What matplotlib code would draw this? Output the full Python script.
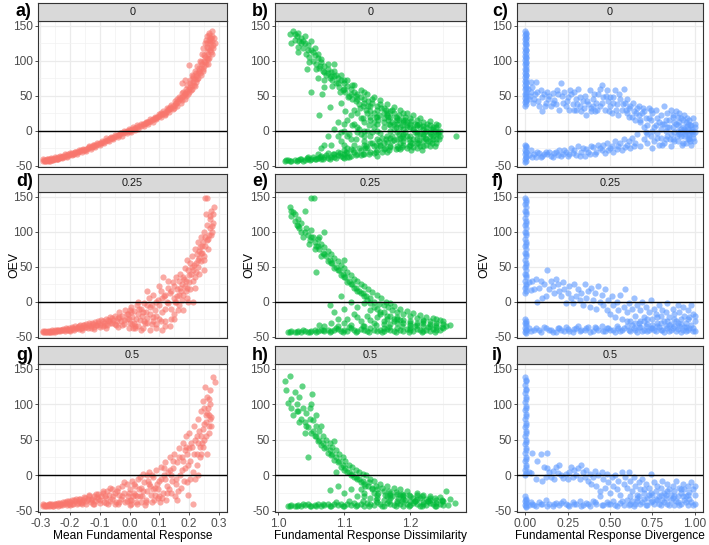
import matplotlib
matplotlib.use("Agg")
import matplotlib.pyplot as plt
from matplotlib.ticker import MultipleLocator

plt.rcParams['font.family'] = ['Liberation Sans', 'DejaVu Sans']

facet_labels = ["0", "0.25", "0.5"]
panel_letters = [["a)", "b)", "c)"], ["d)", "e)", "f)"], ["g)", "h)", "i)"]]
x_titles = ["Mean Fundamental Response", "Fundamental Response Dissimilarity",
            "Fundamental Response Divergence"]
y_title = "OEV"
colors = ["#F8766D", "#00BA38", "#619CFF"]
x_ticks = [[-0.3, -0.2, -0.1, 0.0, 0.1, 0.2, 0.3], [1.0, 1.1, 1.2], [0.0, 0.25, 0.5, 0.75, 1.0]]
x_tick_labels = [["-0.3", "-0.2", "-0.1", "0.0", "0.1", "0.2", "0.3"], ["1.0", "1.1", "1.2"],
                 ["0.00", "0.25", "0.50", "0.75", "1.00"]]
y_ticks = [-50, 0, 50, 100, 150]

# ---------------- row "0" ----------------
panel_a = [(-0.292,-43),(-0.288,-42),(-0.285,-43),(-0.282,-42),(-0.279,-43),(-0.276,-41),(-0.273,-42),(-0.27,-42),
(-0.266,-41),(-0.262,-42),(-0.258,-40),(-0.255,-41),(-0.251,-40),(-0.247,-39),(-0.243,-40),(-0.24,-38),(-0.236,-39),
(-0.232,-37),(-0.228,-38),(-0.224,-36),(-0.22,-37),(-0.215,-35),(-0.211,-36),(-0.206,-34),(-0.202,-35),(-0.197,-33),
(-0.192,-32),(-0.188,-33),(-0.183,-31),(-0.178,-30),(-0.173,-31),(-0.168,-29),(-0.163,-28),(-0.158,-28),(-0.152,-27),
(-0.147,-26),(-0.141,-25),(-0.136,-24),(-0.13,-23),(-0.125,-23),(-0.119,-21),(-0.113,-21),(-0.107,-19),(-0.101,-18),
(-0.095,-17),(-0.089,-16),(-0.083,-15),(-0.077,-13),(-0.071,-13),(-0.065,-11),(-0.058,-10),(-0.052,-9),(-0.046,-8),
(-0.04,-6),(-0.034,-6),(-0.028,-4),(-0.022,-3),(-0.016,-2),(-0.01,-1),(-0.004,0),(0.002,1),(0.008,2),(0.014,3),
(0.02,4),(0.026,5),(0.032,6),(0.038,7),(0.044,9),(0.05,10),(0.056,11),(0.062,12),(0.068,14),(0.074,15),(0.08,17),
(0.086,18),(0.092,19),(0.098,21),(0.104,22),(0.11,24),(0.116,26),(0.122,27),(0.128,29),(0.134,31),(0.14,33),
(0.146,35),(0.152,37),(0.158,40),(0.164,42),(0.17,45),(0.176,48),(0.182,51),(0.188,54),(0.194,57),(0.2,60),
(0.205,63),(0.21,66),(0.215,70),(0.22,74),(0.225,78),(0.23,82),(0.235,86),(0.24,90),(0.245,95),(0.25,100),
(0.255,106),(0.26,112),(0.265,118),(0.27,125),(0.274,132),(0.105,25),(0.12,24),(0.135,34),(0.15,33),(0.16,45),
(0.175,44),(0.18,56),(0.19,50),(0.195,66),(0.2,56),(0.205,72),(0.21,60),(0.215,78),(0.22,64),(0.222,85),(0.225,70),
(0.228,92),(0.232,76),(0.236,100),(0.24,80),(0.243,110),(0.246,86),(0.248,118),(0.25,92),(0.253,125),(0.255,98),
(0.258,130),(0.26,104),(0.262,136),(0.265,110),(0.267,140),(0.27,115),(0.272,128),(0.275,120),(0.278,136),
(0.268,104),(0.276,110),(0.263,95),(0.2,94),(0.21,80),(0.187,73),(0.175,68),(0.277,143),(0.266,137),(0.289,125),
(0.284,132),(0.28,118),(-0.268,-43),(-0.26,-40),(-0.245,-41),(-0.23,-38),(-0.19,-34),(-0.15,-28),(-0.12,-22),
(-0.06,-11),(0.0,-1),(0.06,13),(0.09,18),(0.13,31),(0.155,40),(0.17,47),(0.185,52),
(-0.29,-41),(-0.283,-44),(-0.277,-40),(-0.271,-44),(-0.264,-39),(-0.257,-42),(-0.25,-38),(-0.242,-41),(-0.234,-36),
(-0.226,-39),(-0.218,-34),(-0.21,-38),(-0.2,-32),(-0.193,-35),(-0.185,-30),(-0.177,-33),(-0.17,-28),(-0.16,-31),
(-0.155,-26),(-0.145,-29),(-0.138,-22),(-0.13,-26),(-0.122,-20),(-0.115,-24),(-0.108,-17),(-0.1,-20),(-0.092,-15),
(-0.085,-18),(-0.078,-11),(-0.07,-15),(-0.062,-9),(-0.055,-12),(-0.048,-6),(-0.04,-9),(-0.032,-3),(-0.025,-7),
(-0.018,0),(-0.01,-4),(-0.002,3),(0.005,-2),(0.012,5),(0.018,1),(0.025,8),(0.03,3),(0.04,10),(0.048,6),(0.055,13),
(0.062,9),(0.07,17),(0.078,12),(0.085,20),(0.09,16),(0.1,24),(0.107,19),(0.113,28),(0.12,23),(0.127,32),(0.133,27),
(0.14,37),(0.147,31),(0.153,42),(0.16,36),(0.166,48),(0.172,40),(0.178,54),(0.185,46),(0.19,60),(0.197,52),
(0.203,68),(0.208,58),(0.213,75),(0.218,66),(0.223,82),(0.228,74),(0.233,90),(0.238,82),(0.242,98),(0.247,88),
(0.252,108),(0.257,96),(0.262,120),(0.264,102),(0.268,130),(0.273,112),(0.279,128),(0.282,122),(0.27,132),(0.26,126)]

panel_b = [(1.018,138),(1.022,142),(1.025,130),(1.02,125),(1.028,135),(1.032,128),(1.03,120),(1.035,132),(1.038,118),
(1.04,125),(1.042,110),(1.045,122),(1.047,105),(1.05,115),(1.052,100),(1.055,108),(1.058,96),(1.06,104),(1.062,90),
(1.065,98),(1.068,85),(1.07,92),(1.072,80),(1.075,88),(1.078,76),(1.08,84),(1.082,72),(1.085,78),(1.088,68),(1.09,75),
(1.092,62),(1.095,72),(1.098,58),(1.1,68),(1.102,55),(1.105,64),(1.108,50),(1.11,60),(1.112,46),(1.115,55),(1.118,42),
(1.12,52),(1.122,38),(1.125,48),(1.128,35),(1.13,45),(1.133,30),(1.136,42),(1.14,28),(1.143,40),(1.146,25),(1.15,36),
(1.153,22),(1.156,33),(1.16,18),(1.163,30),(1.166,15),(1.17,28),(1.173,12),(1.176,25),(1.18,10),(1.184,22),(1.188,8),
(1.192,20),(1.196,5),(1.2,18),(1.205,3),(1.21,15),(1.215,5),(1.22,12),(1.225,0),(1.23,8),(1.235,2),(1.24,5),
(1.245,0),(1.242,-5),(1.27,-7),(1.084,96),(1.07,63),(1.079,34),(1.06,75),(1.066,52),(1.095,40),
(1.1,0),(1.105,-8),(1.1,10),(1.11,-12),(1.12,5),(1.125,-5),(1.13,12),(1.13,-15),(1.135,0),(1.14,-8),(1.14,15),
(1.145,5),(1.15,-12),(1.15,10),(1.155,-3),(1.16,-18),(1.16,5),(1.165,-8),(1.17,0),(1.17,-22),(1.175,10),(1.18,-12),
(1.18,-2),(1.185,5),(1.19,-15),(1.19,-5),(1.195,8),(1.2,-20),(1.2,-8),(1.205,2),(1.21,-12),(1.21,-25),(1.215,-5),
(1.22,-15),(1.22,2),(1.225,-20),(1.23,-8),(1.23,-2),(1.235,-12),(1.24,-5),(1.09,-8),(1.085,2),(1.095,-15),(1.08,-20),
(1.12,25),(1.14,20),(1.165,22),(1.19,12),(1.21,-2),
(1.01,-43),(1.015,-42),(1.02,-43),(1.025,-42),(1.03,-42),(1.035,-41),(1.04,-42),(1.045,-41),(1.05,-40),(1.055,-41),
(1.06,-39),(1.065,-40),(1.07,-38),(1.075,-39),(1.08,-37),(1.085,-38),(1.09,-35),(1.095,-36),(1.1,-34),(1.1,-39),
(1.105,-32),(1.11,-36),(1.115,-30),(1.12,-34),(1.125,-28),(1.13,-33),(1.135,-25),(1.14,-30),(1.145,-22),(1.15,-28),
(1.155,-20),(1.16,-26),(1.165,-16),(1.17,-24),(1.175,-14),(1.18,-22),(1.185,-10),(1.19,-20),(1.195,-8),(1.2,-16),
(1.21,-18),(1.22,-22),(1.23,-15),(1.24,-12),(1.11,-26),(1.13,-20),(1.15,-36),(1.09,-30),(1.06,-34),(1.075,-32),
(1.045,-38),(1.065,-36),(1.085,-33),(1.105,-37),(1.125,-35),(1.145,-32),(1.165,-30),(1.185,-26),(1.205,-24),
(1.025,138),(1.03,140),(1.035,125),(1.04,135),(1.045,115),(1.05,128),(1.055,118),(1.06,110),(1.065,102),(1.07,84),
(1.075,95),(1.08,78),(1.085,85),(1.09,68),(1.095,80),(1.1,60),(1.105,72),(1.11,52),(1.115,66),(1.12,45),(1.125,58),
(1.13,40),(1.135,52),(1.14,35),(1.145,48),(1.15,30),(1.155,44),(1.16,26),(1.165,38),(1.17,20),(1.175,34),(1.18,18),
(1.185,30),(1.19,15),(1.195,25),(1.2,10),(1.205,22),(1.21,8),(1.215,18),(1.22,6),(1.23,14),(1.24,10),(1.235,-8),
(1.105,15),(1.11,22),(1.115,-20),(1.12,-2),(1.125,18),(1.13,-8),(1.135,25),(1.14,-18),(1.145,12),(1.15,20),
(1.155,-22),(1.16,12),(1.165,25),(1.17,-10),(1.175,2),(1.18,15),(1.185,-18),(1.19,2),(1.195,-25),(1.2,5),(1.205,-12),
(1.21,8),(1.215,-22),(1.22,-8),(1.225,5),(1.23,-22),(1.235,5),(1.24,-18),(1.245,-8),(1.1,-20),(1.105,-25),(1.115,10),
(1.13,0),(1.15,0),(1.17,8),(1.19,-10),(1.21,-5),(1.225,-12),
(1.012,-42),(1.018,-44),(1.028,-43),(1.033,-40),(1.038,-43),(1.043,-39),(1.048,-42),(1.053,-38),(1.058,-41),
(1.063,-37),(1.068,-41),(1.073,-35),(1.078,-40),(1.083,-34),(1.088,-39),(1.093,-32),(1.098,-38),(1.103,-30),
(1.108,-37),(1.113,-28),(1.118,-35),(1.123,-25),(1.128,-34),(1.133,-22),(1.138,-33),(1.143,-18),(1.148,-31),
(1.153,-15),(1.158,-30),(1.163,-12),(1.168,-28),(1.173,-8),(1.178,-26),(1.183,-5),(1.188,-24),(1.193,-2),
(1.198,-22),(1.203,-18),(1.213,-14),(1.223,-10),(1.233,-18),(1.243,-2),
(1.03,112),(1.038,128),(1.046,98),(1.052,112),(1.058,88),(1.064,92),(1.07,72),(1.076,82),(1.082,64),(1.088,80),
(1.094,55),(1.1,72),(1.106,48),(1.112,65),(1.118,50),(1.124,32),(1.13,55),(1.136,35),(1.142,45),(1.148,20),
(1.154,38),(1.16,32),(1.166,20),(1.172,30),(1.178,5),(1.184,15),(1.19,25),(1.196,12),(1.202,14),(1.208,-2),
(1.214,10),(1.22,-5),(1.226,10),(1.232,-5),(1.238,0),(1.244,-12),
(1.095,-2),(1.1,-28),(1.108,-5),(1.112,8),(1.118,-12),(1.122,2),(1.128,18),(1.132,-25),(1.138,8),(1.142,-2),
(1.148,-20),(1.152,15),(1.158,-10),(1.162,-25),(1.168,10),(1.172,-15),(1.178,20),(1.182,-25),(1.188,-8),(1.192,15),
(1.198,-12),(1.202,-28),(1.208,10),(1.212,-18),(1.218,-28),(1.222,-2),(1.228,-15),(1.232,3),(1.238,-22),(1.242,8),
(1.07,-20),(1.075,-8),(1.065,-25),(1.09,12),(1.102,28),(1.115,30),(1.062,22),(1.05,55),(1.044,88)]

panel_c = [(0.0,142),(0.003,139),(0.0,137),(0.002,134),(0.0,131),(0.003,128),(0.0,125),(0.002,122),(0.0,119),
(0.003,116),(0.0,113),(0.002,110),(0.0,107),(0.003,104),(0.0,101),(0.002,98),(0.0,95),(0.003,92),(0.0,89),
(0.002,86),(0.0,83),(0.003,80),(0.0,77),(0.002,74),(0.0,71),(0.003,68),(0.0,65),(0.002,62),(0.0,59),(0.003,56),
(0.0,53),(0.002,50),(0.0,47),(0.003,44),(0.0,41),(0.002,38),(0.0,36),
(0.004,140),(0.004,132),(0.004,124),(0.004,115),(0.004,106),(0.004,97),(0.004,88),(0.004,79),(0.004,70),
(0.004,61),(0.004,52),(0.004,43),
(0.0,-20),(0.002,-24),(0.0,-28),(0.003,-31),(0.0,-34),(0.002,-37),(0.0,-40),(0.003,-43),(0.0,-45),
(0.004,-22),(0.004,-30),(0.004,-38),
(0.02,45),(0.03,70),(0.04,62),(0.05,45),(0.06,70),(0.07,55),(0.08,36),(0.09,58),(0.1,28),(0.11,52),(0.13,55),
(0.14,50),(0.16,54),(0.17,44),(0.18,38),(0.19,52),(0.2,30),(0.21,68),(0.22,40),(0.24,35),(0.25,48),(0.26,30),
(0.27,52),(0.28,38),(0.29,55),(0.3,45),(0.31,60),(0.32,35),(0.33,28),(0.34,42),(0.35,50),(0.36,22),(0.37,38),
(0.38,58),(0.39,32),(0.4,45),(0.41,28),(0.42,40),(0.43,52),(0.44,36),(0.45,65),(0.46,48),(0.47,30),(0.48,58),
(0.49,42),(0.5,35),(0.51,25),(0.52,48),(0.53,58),(0.54,38),(0.55,22),(0.56,45),(0.57,30),(0.58,60),(0.59,40),
(0.6,25),(0.62,35),(0.63,20),(0.64,28),(0.65,15),(0.66,32),(0.67,22),(0.68,12),(0.7,28),(0.71,18),(0.72,8),
(0.73,32),(0.74,15),(0.75,25),(0.76,5),(0.77,30),(0.78,18),(0.8,22),(0.81,10),(0.82,35),(0.83,15),(0.84,25),
(0.85,5),(0.87,20),(0.88,12),(0.89,28),(0.9,8),(0.92,18),(0.93,5),(0.94,22),(0.95,12),(0.96,2),(0.97,15),
(0.98,8),(0.99,18),(1.0,5),
(0.015,60),(0.025,50),(0.045,40),(0.12,40),(0.15,36),(0.23,55),(0.3,30),(0.4,35),(0.44,60),(0.5,48),(0.6,45),
(0.61,32),(0.67,35),(0.69,25),(0.74,30),(0.79,12),(0.86,30),(0.91,25),
(0.035,55),(0.055,52),(0.075,42),(0.095,48),(0.115,35),(0.135,45),(0.165,40),(0.185,58),(0.215,50),(0.245,42),
(0.265,58),(0.285,30),(0.305,38),(0.325,48),(0.345,32),(0.365,42),(0.385,28),(0.405,52),(0.425,30),(0.455,40),
(0.475,50),(0.495,28),(0.515,40),(0.535,30),(0.555,52),(0.575,38),(0.595,30),(0.615,20),(0.635,40),(0.655,25),
(0.675,15),(0.695,32),
(0.7,5),(0.72,-5),(0.73,18),(0.75,0),(0.77,8),(0.78,-10),(0.8,2),(0.81,-20),(0.82,10),(0.83,-12),(0.85,15),
(0.86,-5),(0.87,5),(0.88,-15),(0.89,10),(0.9,0),(0.91,12),(0.92,-8),(0.93,15),(0.94,0),(0.95,-18),(0.96,10),
(0.97,-10),(0.98,0),(0.99,-5),(1.0,10),(0.995,-15),(0.985,-2),(0.975,8),(0.965,-12),(0.955,18),(0.945,-5),
(0.935,3),(0.925,-20),(0.915,-2),(0.905,20),(0.895,-8),(0.875,22),(0.855,-12),(0.835,5),
(0.02,-35),(0.03,-28),(0.05,-33),(0.06,-38),(0.08,-32),(0.1,-36),(0.12,-30),(0.13,-34),(0.15,-36),(0.17,-32),
(0.19,-35),(0.2,-28),(0.22,-33),(0.24,-30),(0.25,-36),(0.27,-25),(0.28,-32),(0.3,-35),(0.31,-22),(0.33,-30),
(0.35,-36),(0.36,-26),(0.38,-33),(0.4,-24),(0.42,-30),(0.43,-20),(0.45,-27),(0.47,-32),(0.48,-18),(0.5,-25),
(0.52,-30),(0.53,-15),(0.55,-22),(0.57,-28),(0.58,-12),(0.6,-20),(0.62,-25),(0.63,-10),(0.65,-18),(0.66,-5),
(0.68,-22),(0.7,-12),(0.71,-2),(0.72,-18),(0.74,-8),(0.75,-25),(0.76,-15),(0.78,-3),(0.79,-20),(0.8,-10),
(0.82,-18),(0.83,0),(0.84,-8),(0.86,-22),(0.87,-12),(0.88,-2),(0.9,-15),(0.91,-5),(0.92,2),(0.93,-18),(0.94,-8),
(0.95,0),(0.96,-12),(0.97,-4),(0.98,-20),(0.99,-10),(1.0,-2),(0.985,3),(0.975,-15),(0.955,6),(0.965,-6),
(0.04,-38),(0.07,-30),(0.09,-37),(0.11,-33),(0.14,-30),(0.16,-38),(0.18,-30),(0.21,-36),(0.23,-28),(0.26,-33),
(0.29,-28),(0.32,-36),(0.34,-25),(0.37,-30),(0.39,-22),(0.41,-34),(0.44,-25),(0.46,-20),(0.49,-28),(0.51,-22),
(0.54,-26),(0.56,-18),(0.59,-24),(0.61,-15),(0.64,-22)]

# ---------------- row "0.25" ----------------
panel_d = [(-0.292,-43),(-0.288,-44),(-0.284,-42),(-0.28,-43),(-0.276,-42),(-0.272,-44),(-0.268,-42),(-0.264,-43),
(-0.26,-41),(-0.256,-43),(-0.252,-41),(-0.248,-42),(-0.244,-40),(-0.24,-42),(-0.235,-40),(-0.23,-41),(-0.225,-39),
(-0.22,-41),(-0.215,-38),(-0.21,-40),(-0.205,-37),(-0.2,-40),(-0.195,-36),(-0.19,-39),(-0.185,-35),(-0.18,-38),
(-0.175,-36),(-0.17,-39),(-0.165,-34),(-0.16,-37),(-0.155,-33),(-0.15,-36),(-0.145,-32),(-0.14,-37),(-0.135,-31),
(-0.13,-35),(-0.125,-30),(-0.12,-36),(-0.115,-29),(-0.11,-34),(-0.105,-28),(-0.1,-33),(-0.095,-26),(-0.09,-35),
(-0.085,-30),(-0.08,-25),(-0.075,-33),(-0.07,-28),(-0.065,-22),(-0.06,-31),(-0.055,-26),(-0.05,-20),(-0.045,-34),
(-0.04,-24),(-0.035,-15),(-0.03,-28),(-0.025,-20),(-0.02,-32),(-0.015,-12),(-0.01,-25),(-0.005,-18),(0.0,-30),
(0.005,-8),(0.01,-22),(0.015,-14),(0.02,-35),(0.025,-5),(0.03,-18),(0.035,-26),(0.04,-10),(0.045,-38),(0.05,-2),
(0.055,-15),(0.06,-24),(0.065,5),(0.07,-8),(0.075,-32),(0.08,10),(0.085,-12),(0.09,-20),(0.095,2),(0.1,-5),
(0.105,15),(0.11,-15),(0.115,8),(0.12,-28),(0.125,0),(0.13,20),(0.135,12),(0.14,-10),(0.145,28),(0.15,5),
(0.155,35),(0.16,18),(0.165,-5),(0.17,40),(0.175,25),(0.18,10),(0.185,48),(0.19,30),(0.195,60),(0.2,38),
(0.205,18),(0.21,65),(0.215,45),(0.22,75),(0.225,55),(0.23,85),(0.235,62),(0.24,92),(0.245,70),(0.25,100),
(0.255,80),(0.26,110),(0.262,148),(0.254,148),(0.265,90),(0.27,118),(0.275,130),(0.28,112),(0.283,136),
(0.278,100),(0.272,122),(0.258,125),(0.248,85),(0.238,78),(0.228,68),(0.218,52),(0.208,40),(0.198,45),
(0.188,22),(0.178,2),(0.168,30),(0.158,0),(0.148,-18),(0.138,-25),(0.128,30),(0.118,-35),(0.108,-40),
(0.098,22),(0.088,-38),(0.078,-22),(0.068,-40),(0.058,15),(0.048,-28),(0.038,-40),(0.028,0),(0.018,-38),
(0.008,-32),(-0.002,-38),(0.112,35),(0.152,0),(0.162,-12),(0.172,15),(0.182,32),(0.192,5),(0.198,0),(0.212,0),
(0.232,50),(0.242,58),(0.252,66),(0.268,95),(0.276,108),(-0.12,-39),(-0.08,-37),(-0.04,-36),(-0.2,-42),(-0.16,-40),
(-0.29,-42),(-0.282,-44),(-0.274,-43),(-0.266,-44),(-0.258,-42),(-0.25,-43),(-0.242,-41),(-0.234,-42),(-0.226,-40),
(-0.218,-42),(-0.21,-39),(-0.202,-41),(-0.194,-38),(-0.186,-40),(-0.178,-37),(-0.17,-35),(-0.162,-38),(-0.154,-34),
(-0.146,-36),(-0.138,-33),(-0.13,-37),(-0.122,-32),(-0.114,-34),(-0.106,-30),(-0.098,-36),(-0.09,-28),(-0.082,-34),
(-0.074,-26),(-0.066,-30),(-0.058,-24),(-0.05,-32),(-0.042,-28),(-0.034,-22),(-0.026,-34),(-0.018,-26),(-0.01,-18),
(-0.002,-25),(0.006,-15),(0.012,-38),(0.022,-25),(0.032,-10),(0.042,-20),(0.052,-30),(0.06,-5),(0.07,-18),
(0.08,-28),(0.09,0),(0.1,-25),(0.11,5),(0.12,-10),(0.13,-2),(0.14,15),(0.15,22),(0.16,8),(0.17,20),(0.18,35),
(0.19,15),(0.2,28),(0.21,50),(0.22,35),(0.23,60),(0.24,70),(0.25,60),(0.26,88),(0.27,105),(0.275,95),(0.28,125),
(0.265,75),(0.255,92),(0.245,80),(0.235,72),(0.225,42),(0.215,30),
(0.0,-12),(0.015,-30),(0.03,-35),(0.045,-15),(0.06,-30),(0.075,-5),(0.09,-32),(0.105,-28),(0.12,10),(0.135,-35),
(0.15,-25),(0.165,10),(0.18,-12),(0.195,20),(0.205,55),(0.22,20),(0.235,40),(0.25,45)]

panel_e = [(1.018,135),(1.02,122),(1.022,128),(1.025,115),(1.028,110),(1.03,118),(1.032,105),(1.035,112),(1.04,100),
(1.04,130),(1.05,148),(1.054,148),(1.045,95),(1.048,88),(1.05,102),(1.052,92),(1.055,85),(1.058,80),(1.06,90),
(1.062,75),(1.065,82),(1.068,70),(1.07,78),(1.072,65),(1.075,72),(1.078,60),(1.08,68),(1.082,55),(1.085,62),
(1.088,50),(1.09,58),(1.092,45),(1.095,52),(1.098,40),(1.1,48),(1.102,35),(1.105,42),(1.108,30),(1.11,38),
(1.112,25),(1.115,33),(1.118,20),(1.12,30),(1.122,15),(1.125,25),(1.128,12),(1.13,22),(1.133,8),(1.136,18),
(1.14,5),(1.143,14),(1.146,0),(1.15,10),(1.153,-3),(1.156,5),(1.16,-5),(1.163,0),(1.166,-8),(1.17,-2),(1.173,-12),
(1.176,-6),(1.18,-15),(1.185,-10),(1.19,-18),(1.195,-14),(1.2,-20),(1.205,-16),(1.21,-24),(1.215,-19),(1.22,-26),
(1.225,-22),(1.23,-28),(1.235,-24),(1.24,-30),(1.245,-26),(1.25,-32),(1.255,-35),(1.26,-33),(1.058,42),(1.1,60),
(1.07,100),(1.062,92),(1.078,-5),(1.085,-15),(1.095,8),(1.1,-10),(1.105,-25),(1.11,0),(1.115,-18),(1.12,-8),
(1.125,-28),(1.13,-2),(1.135,-20),(1.14,-12),(1.145,-30),(1.15,-22),(1.155,-15),(1.16,-28),(1.165,-20),
(1.17,-32),(1.175,-25),(1.18,-30),(1.19,-26),(1.2,-33),(1.21,-30),(1.22,-35),(1.23,-32),(1.24,-36),(1.09,-25),
(1.08,-30),(1.07,-35),(1.062,-33),(1.13,-35),(1.16,-38),(1.2,-38),(1.25,-38),
(1.02,130),(1.025,125),(1.03,108),(1.035,100),(1.038,92),(1.042,105),(1.046,82),(1.05,92),(1.055,75),(1.06,80),
(1.065,65),(1.07,68),(1.075,58),(1.08,55),(1.085,48),(1.09,45),(1.095,38),(1.1,35),(1.105,28),(1.11,25),(1.115,20),
(1.12,15),(1.125,12),(1.13,8),(1.135,2),(1.14,-2),(1.145,-8),(1.15,-10),(1.155,-18),(1.16,-15),(1.165,-25),
(1.17,-20),(1.175,-28),(1.18,-22),(1.185,-26),(1.19,-30),(1.2,-28),(1.21,-33),(1.22,-30),(1.23,-35),(1.24,-34),
(1.25,-28),
(1.015,-43),(1.02,-42),(1.025,-43),(1.03,-42),(1.035,-43),(1.04,-42),(1.045,-43),(1.05,-42),(1.055,-41),(1.06,-42),
(1.065,-41),(1.07,-42),(1.075,-40),(1.08,-42),(1.085,-41),(1.09,-39),(1.095,-42),(1.1,-40),(1.105,-42),(1.11,-38),
(1.115,-41),(1.12,-42),(1.125,-39),(1.13,-41),(1.135,-42),(1.14,-38),(1.145,-41),(1.15,-42),(1.155,-40),(1.16,-42),
(1.165,-39),(1.17,-41),(1.175,-42),(1.18,-38),(1.185,-41),(1.19,-42),(1.195,-39),(1.2,-41),(1.205,-42),(1.21,-39),
(1.215,-41),(1.22,-42),(1.225,-40),(1.23,-42),(1.235,-39),(1.24,-41),(1.245,-40),
(1.018,-44),(1.028,-44),(1.038,-41),(1.048,-44),(1.058,-43),(1.068,-40),(1.078,-43),(1.088,-38),(1.098,-43),
(1.108,-36),(1.118,-43),(1.128,-35),(1.138,-44),(1.148,-34),(1.158,-43),(1.168,-36),(1.178,-44),(1.188,-35),
(1.198,-43),(1.208,-35),(1.218,-44),(1.228,-36),(1.238,-43),(1.248,-36),(1.1,-30),(1.12,-22),(1.14,-26),(1.16,-32),
(1.18,-25),(1.2,-30),(1.22,-28),(1.24,-25),(1.09,-35),(1.11,-33)]

panel_f = [(0.0,148),(0.003,145),(0.0,140),(0.002,135),(0.0,130),(0.003,125),(0.0,120),(0.002,115),(0.0,110),
(0.003,105),(0.0,100),(0.002,95),(0.0,90),(0.003,85),(0.0,80),(0.002,75),(0.0,70),(0.003,65),(0.0,60),(0.002,55),
(0.0,50),(0.003,45),(0.0,40),(0.002,35),(0.0,30),(0.003,25),(0.0,20),(0.002,15),(0.0,12),
(0.004,142),(0.004,128),(0.004,112),(0.004,98),(0.004,82),(0.004,68),(0.004,52),(0.004,38),(0.004,22),
(0.0,-25),(0.002,-28),(0.0,-31),(0.003,-34),(0.0,-37),(0.002,-40),(0.0,-43),(0.003,-45),(0.004,-30),(0.004,-40),
(0.02,28),(0.03,16),(0.04,30),(0.05,18),(0.06,32),(0.07,0),(0.08,20),(0.09,30),(0.1,5),(0.11,25),(0.12,8),
(0.13,45),(0.14,18),(0.15,30),(0.16,22),(0.17,12),(0.18,33),(0.19,25),(0.2,15),(0.21,8),(0.22,28),(0.23,18),
(0.24,-2),(0.25,12),(0.26,22),(0.27,5),(0.28,-2),(0.29,25),(0.3,8),(0.31,18),(0.32,2),(0.33,12),(0.34,-5),
(0.35,25),(0.36,5),(0.37,15),(0.38,-8),(0.39,20),(0.4,2),(0.41,12),(0.42,-10),(0.43,22),(0.44,0),(0.45,10),
(0.46,-5),(0.47,18),(0.48,-12),(0.49,2),(0.5,-18),(0.51,8),(0.52,-5),(0.53,-22),(0.54,0),(0.55,-12),(0.56,10),
(0.57,-25),(0.58,-8),(0.59,18),(0.6,-15),(0.61,-2),(0.62,-28),(0.63,-10),(0.64,5),(0.65,-20),(0.66,-5),(0.67,-30),
(0.68,-12),(0.69,0),(0.7,-22),(0.71,-8),(0.72,-32),(0.73,-15),(0.74,2),(0.75,-25),(0.76,-10),(0.77,-18),(0.78,-30),
(0.79,-5),(0.8,-20),(0.81,-12),(0.82,-28),(0.83,-15),(0.84,-2),(0.85,-22),(0.86,-32),(0.87,-10),(0.88,-18),
(0.89,-28),(0.9,-5),(0.91,-15),(0.92,-25),(0.93,-8),(0.94,-20),(0.95,-30),(0.96,-12),(0.97,-22),(0.98,-5),
(0.99,-18),(1.0,-28),
(0.03,-42),(0.06,-38),(0.08,-41),(0.11,-36),(0.14,-40),(0.16,-43),(0.19,-38),(0.21,-41),(0.24,-36),(0.26,-42),
(0.29,-39),(0.31,-35),(0.33,-41),(0.36,-38),(0.38,-43),(0.41,-36),(0.43,-40),(0.46,-42),(0.48,-37),(0.5,-40),
(0.53,-43),(0.55,-38),(0.57,-41),(0.6,-35),(0.62,-42),(0.64,-38),(0.66,-43),(0.68,-36),(0.7,-40),(0.72,-42),
(0.74,-37),(0.76,-41),(0.78,-35),(0.8,-40),(0.82,-43),(0.84,-37),(0.86,-41),(0.88,-35),(0.9,-39),(0.92,-43),
(0.94,-36),(0.96,-40),(0.98,-33),(1.0,-42),(0.65,-30),(0.7,-28),(0.75,-33),(0.8,-30),(0.85,-33),(0.9,-30),
(0.95,-36),(0.99,-38),
(0.02,-38),(0.05,-41),(0.09,-43),(0.12,-38),(0.15,-41),(0.18,-43),(0.2,-37),(0.23,-42),(0.25,-39),(0.28,-43),
(0.3,-38),(0.32,-42),(0.35,-40),(0.37,-36),(0.4,-42),(0.42,-38),(0.45,-35),(0.47,-42),(0.49,-38),(0.52,-41),
(0.54,-35),(0.56,-42),(0.58,-37),(0.61,-40),(0.63,-33),(0.65,-40),(0.67,-36),(0.69,-42),(0.71,-35),(0.73,-41),
(0.75,-38),(0.77,-42),(0.79,-36),(0.81,-40),(0.83,-35),(0.85,-42),(0.87,-38),(0.89,-42),(0.91,-35),(0.93,-40),
(0.95,-42),(0.97,-37),(0.99,-42),(0.72,-25),(0.78,-22),(0.84,-27),(0.88,-25),(0.92,-32),(0.96,-25),(1.0,-20),
(0.68,-28),(0.6,-28)]

# ---------------- row "0.5" ----------------
panel_g = [(-0.292,-43),(-0.288,-42),(-0.284,-44),(-0.28,-42),(-0.276,-43),(-0.272,-41),(-0.268,-43),(-0.264,-42),
(-0.26,-41),(-0.256,-43),(-0.252,-40),(-0.248,-42),(-0.244,-41),(-0.24,-39),(-0.235,-42),(-0.23,-40),(-0.225,-38),
(-0.22,-41),(-0.215,-39),(-0.21,-36),(-0.205,-40),(-0.2,-38),(-0.195,-35),(-0.19,-40),(-0.185,-37),(-0.18,-34),
(-0.175,-39),(-0.17,-36),(-0.165,-33),(-0.16,-38),(-0.155,-35),(-0.15,-32),(-0.145,-37),(-0.14,-34),(-0.135,-30),
(-0.13,-38),(-0.125,-33),(-0.12,-29),(-0.115,-36),(-0.11,-31),(-0.105,-27),(-0.1,-35),(-0.095,-30),(-0.09,-25),
(-0.085,-38),(-0.08,-32),(-0.075,-22),(-0.07,-28),(-0.065,-36),(-0.06,-20),(-0.055,-30),(-0.05,-25),(-0.045,-38),
(-0.04,-18),(-0.035,-28),(-0.03,-34),(-0.025,-15),(-0.02,-25),(-0.015,-38),(-0.01,-12),(-0.005,-30),(0.0,-20),
(0.005,-35),(0.01,-8),(0.015,-25),(0.02,-15),(0.025,-40),(0.03,-5),(0.035,-30),(0.04,-18),(0.045,2),(0.05,-10),
(0.055,-35),(0.06,-22),(0.065,5),(0.07,-15),(0.075,-38),(0.08,-2),(0.085,-28),(0.09,8),(0.095,-20),(0.1,-8),
(0.105,12),(0.11,-32),(0.115,0),(0.12,18),(0.125,-15),(0.13,5),(0.135,25),(0.14,-25),(0.145,10),(0.15,30),
(0.155,-5),(0.16,18),(0.165,38),(0.17,0),(0.175,25),(0.18,45),(0.185,10),(0.19,55),(0.195,30),(0.198,-28),
(0.2,60),(0.205,20),(0.21,40),(0.215,-40),(0.218,70),(0.222,50),(0.226,30),(0.23,80),(0.232,0),(0.235,62),
(0.24,90),(0.243,45),(0.246,105),(0.25,72),(0.253,125),(0.256,85),(0.26,110),(0.263,95),(0.266,70),(0.27,100),
(0.275,82),(0.28,138),(0.288,132),(0.272,120),(0.268,60),(0.258,55),(0.248,40),(0.238,25),(0.228,15),(0.212,5),
(0.202,-5),(0.192,-10),(0.182,-8),(0.172,-18),(0.162,-22),(0.152,-30),(0.142,-8),(0.132,-20),(0.122,-35),
(0.112,-25),(0.102,-38),(0.092,-12),(0.082,-35),(0.072,-28),(0.062,-8),(0.052,-42),(0.042,-30),(0.032,-20),
(0.022,-38),(0.012,-30),(0.002,-42),(-0.2,-42),(-0.16,-41),(-0.12,-40),(-0.08,-39),(-0.04,-41),
(-0.29,-41),(-0.282,-43),(-0.274,-42),(-0.266,-41),(-0.258,-43),(-0.25,-41),(-0.242,-43),(-0.234,-39),(-0.226,-42),
(-0.218,-38),(-0.21,-42),(-0.202,-36),(-0.194,-41),(-0.186,-35),(-0.178,-40),(-0.17,-33),(-0.162,-39),(-0.154,-31),
(-0.146,-40),(-0.138,-28),(-0.13,-35),(-0.122,-40),(-0.114,-26),(-0.106,-33),(-0.098,-39),(-0.09,-22),(-0.082,-30),
(-0.074,-40),(-0.066,-18),(-0.058,-33),(-0.05,-41),(-0.042,-22),(-0.034,-38),(-0.026,-30),(-0.018,-10),(-0.01,-36),
(-0.002,-25),(0.006,-40),(0.016,-12),(0.026,-30),(0.036,-2),(0.046,-22),(0.056,-38),(0.066,-12),(0.076,0),
(0.086,-18),(0.096,-32),(0.106,-5),(0.116,10),(0.126,-25),(0.136,8),(0.146,20),(0.156,-12),(0.166,25),(0.176,8),
(0.186,35),(0.196,15),(0.206,45),(0.216,30),(0.226,55),(0.236,40),(0.246,65),(0.256,75),(0.262,88),(0.266,108),
(0.274,70),(0.268,85),(0.252,50),(0.242,30),
(0.0,-35),(0.02,-28),(0.04,-38),(0.06,0),(0.08,-20),(0.1,-30),(0.12,-5),(0.14,0),(0.16,-35),(0.18,20),(0.2,38),
(0.22,-5),(0.24,55),(0.26,30),(0.25,95),(0.27,80),(0.23,45),(0.19,40)]

panel_h = [(1.01,133),(1.018,140),(1.015,102),(1.02,95),(1.025,117),(1.022,85),(1.028,100),(1.03,90),(1.032,110),
(1.035,80),(1.036,126),(1.04,75),(1.042,88),(1.045,68),(1.048,95),(1.05,60),(1.051,114),(1.052,78),(1.055,55),
(1.058,70),(1.06,48),(1.062,62),(1.065,42),(1.068,55),(1.07,38),(1.072,50),(1.075,32),(1.078,45),(1.08,28),
(1.082,40),(1.085,22),(1.088,35),(1.09,18),(1.092,30),(1.095,12),(1.098,25),(1.1,8),(1.102,20),(1.105,5),
(1.108,15),(1.11,0),(1.112,12),(1.115,-3),(1.118,8),(1.12,-6),(1.122,5),(1.125,-10),(1.128,2),(1.13,-12),
(1.133,0),(1.136,-15),(1.14,-5),(1.143,-18),(1.146,-8),(1.15,-20),(1.155,-12),(1.16,-22),(1.165,-15),(1.17,-25),
(1.175,-18),(1.18,-26),(1.185,-20),(1.19,-28),(1.195,-23),(1.2,-30),(1.21,-25),(1.215,-32),(1.22,-28),(1.225,-34),
(1.23,-30),(1.24,-35),(1.245,-31),(1.25,-37),(1.255,-22),(1.26,-33),(1.268,-39),(1.045,25),(1.078,-21),(1.087,5),
(1.05,100),(1.04,60),(1.065,70),(1.085,48),(1.058,85),
(1.012,120),(1.02,108),(1.028,90),(1.032,75),(1.038,95),(1.042,70),(1.048,80),(1.052,62),(1.058,55),(1.062,50),
(1.068,45),(1.072,40),(1.078,35),(1.082,30),(1.088,25),(1.092,20),(1.098,15),(1.102,10),(1.108,5),(1.112,2),
(1.118,-2),(1.122,-5),(1.128,-8),(1.132,-15),(1.138,-10),(1.142,-20),(1.148,-15),(1.152,-25),(1.158,-18),
(1.162,-28),(1.168,-22),(1.172,-30),(1.178,-24),(1.182,-32),(1.188,-26),(1.192,-35),(1.198,-28),(1.208,-36),
(1.218,-30),(1.228,-37),(1.238,-32),(1.248,-35),
(1.09,-15),(1.1,-25),(1.11,-20),(1.12,-30),(1.13,-25),(1.14,-32),(1.15,-28),(1.16,-35),(1.17,-32),(1.18,-36),
(1.19,-33),(1.2,-37),(1.21,-34),(1.22,-38),(1.23,-35),(1.24,-39),(1.125,-20),(1.145,-25),(1.165,-30),(1.185,-28),
(1.205,-32),
(1.015,-43),(1.02,-42),(1.025,-43),(1.03,-42),(1.035,-43),(1.04,-42),(1.045,-41),(1.05,-43),(1.055,-42),(1.06,-41),
(1.065,-43),(1.07,-42),(1.075,-41),(1.08,-43),(1.085,-40),(1.09,-42),(1.095,-41),(1.1,-43),(1.105,-40),(1.11,-42),
(1.115,-39),(1.12,-42),(1.125,-40),(1.13,-43),(1.135,-39),(1.14,-41),(1.145,-42),(1.15,-38),(1.155,-41),(1.16,-43),
(1.165,-39),(1.17,-41),(1.175,-42),(1.18,-39),(1.185,-41),(1.19,-43),(1.195,-40),(1.2,-42),(1.205,-39),(1.21,-41),
(1.215,-43),(1.22,-40),(1.225,-42),(1.23,-39),(1.235,-41),(1.24,-43),(1.245,-40),(1.25,-42),
(1.018,-44),(1.028,-44),(1.038,-41),(1.048,-44),(1.058,-43),(1.068,-40),(1.078,-44),(1.088,-38),(1.098,-43),
(1.108,-37),(1.118,-44),(1.128,-36),(1.138,-43),(1.148,-35),(1.158,-44),(1.168,-36),(1.178,-43),(1.188,-37),
(1.198,-44),(1.208,-36),(1.218,-43),(1.228,-37),(1.238,-44),(1.248,-36),(1.258,-42),(1.13,-30),(1.15,-32),
(1.17,-28),(1.19,-30),(1.21,-28),(1.23,-32)]

panel_i = [(0.0,138),(0.003,133),(0.0,128),(0.002,122),(0.0,116),(0.003,110),(0.0,104),(0.002,98),(0.0,92),
(0.003,86),(0.0,80),(0.002,74),(0.0,68),(0.003,62),(0.0,56),(0.002,50),(0.0,44),(0.003,38),(0.0,32),(0.002,26),
(0.0,20),(0.003,14),(0.0,8),(0.002,3),(0.0,0),
(0.004,135),(0.004,120),(0.004,107),(0.004,95),(0.004,83),(0.004,71),(0.004,59),(0.004,47),(0.004,35),(0.004,23),
(0.004,11),
(0.0,-30),(0.002,-33),(0.0,-36),(0.003,-39),(0.0,-42),(0.002,-45),(0.004,-35),(0.004,-43),
(0.02,5),(0.03,3),(0.04,32),(0.06,-5),(0.07,20),(0.09,30),(0.1,-8),(0.11,12),(0.12,-3),(0.125,32),(0.13,10),
(0.14,4),(0.15,-2),(0.16,6),(0.17,-5),(0.18,12),(0.19,3),(0.2,14),(0.21,0),(0.22,-4),(0.24,2),(0.25,-6),(0.26,5),
(0.27,12),(0.28,-2),(0.29,8),(0.3,0),(0.31,10),(0.32,-5),(0.33,15),(0.34,5),(0.35,-3),(0.36,8),(0.37,-8),(0.38,2),
(0.39,-12),(0.4,-2),(0.41,6),(0.42,-15),(0.43,0),(0.44,-22),(0.45,4),(0.46,-5),(0.47,-18),(0.48,2),(0.49,-10),
(0.5,-25),(0.51,-3),(0.52,-15),(0.53,0),(0.54,-20),(0.55,-8),(0.56,-28),(0.57,5),(0.58,-12),(0.59,-2),(0.6,-18),
(0.61,5),(0.62,-8),(0.63,-22),(0.64,-3),(0.65,-15),(0.66,-28),(0.67,-10),(0.68,-20),(0.69,-5),(0.7,-25),(0.71,-12),
(0.72,-32),(0.73,-18),(0.74,2),(0.75,-28),(0.76,-10),(0.77,-22),(0.78,-15),(0.79,-30),(0.8,-18),(0.81,-8),
(0.82,-25),(0.83,-32),(0.84,-12),(0.85,-20),(0.86,-28),(0.87,-15),(0.88,-22),(0.89,-8),(0.9,-30),(0.91,-18),
(0.92,-25),(0.93,-12),(0.94,-20),(0.95,-30),(0.96,-15),(0.97,-24),(0.98,-10),(0.99,-20),(1.0,-28),
(0.02,-42),(0.04,-40),(0.06,-43),(0.08,-38),(0.1,-41),(0.12,-35),(0.14,-40),(0.16,-43),(0.18,-39),(0.2,-42),
(0.22,-37),(0.24,-41),(0.26,-43),(0.28,-38),(0.3,-41),(0.32,-36),(0.34,-42),(0.36,-39),(0.38,-43),(0.4,-37),
(0.42,-41),(0.44,-30),(0.46,-42),(0.48,-38),(0.5,-41),(0.52,-36),(0.54,-43),(0.56,-39),(0.58,-42),(0.6,-35),
(0.62,-40),(0.64,-43),(0.66,-37),(0.68,-41),(0.7,-33),(0.72,-42),(0.74,-38),(0.76,-41),(0.78,-35),(0.8,-42),
(0.82,-38),(0.84,-41),(0.86,-35),(0.88,-42),(0.9,-38),(0.92,-41),(0.94,-35),(0.96,-42),(0.98,-38),(1.0,-40),
(0.67,-30),(0.73,-28),(0.77,-33),(0.83,-28),(0.87,-32),(0.93,-30),(0.97,-34),
(0.03,-38),(0.05,-42),(0.09,-40),(0.13,-43),(0.17,-41),(0.21,-39),(0.25,-42),(0.29,-40),(0.33,-43),(0.37,-40),
(0.41,-38),(0.45,-42),(0.49,-40),(0.53,-42),(0.57,-37),(0.61,-42),(0.63,-36),(0.65,-41),(0.69,-38),(0.71,-42),
(0.75,-36),(0.79,-40),(0.81,-35),(0.85,-42),(0.89,-36),(0.91,-42),(0.95,-38),(0.99,-42),(0.7,-20),(0.74,-25),
(0.8,-28),(0.84,-22),(0.88,-30),(0.92,-20),(0.96,-28),(1.0,-15),(0.66,-32),(0.62,-30)]

panels = [[panel_a, panel_b, panel_c], [panel_d, panel_e, panel_f], [panel_g, panel_h, panel_i]]

# ---------------- layout (figure fractions) ----------------
W, H = 709, 545
col_px = [(38, 227), (275, 466), (517, 703)]
row_px = [(21, 167), (192, 338), (364, 512)]
strip_px = 18
xlims = [(-0.308, 0.328), (0.995, 1.285), (-0.05, 1.05)]
xminor = [0.05, 0.05, 0.125]
ylim = (-52, 157)
letter_x = [16, 252, 492]
letter_y = [12, 182, 355]
ylab_x = [14, 249, 484]

fig = plt.figure(figsize=(W / 100, H / 100), dpi=100)

for r in range(3):
    for c in range(3):
        x0, x1 = col_px[c]
        y0, y1 = row_px[r]
        ax = fig.add_axes([x0 / W, 1 - y1 / H, (x1 - x0) / W, (y1 - y0) / H])
        ax.set_facecolor("white")
        ax.set_axisbelow(True)
        xs = [p[0] for p in panels[r][c]]
        ys = [p[1] for p in panels[r][c]]
        ax.scatter(xs, ys, s=20, color=colors[c], alpha=0.62, linewidths=0, zorder=3)
        ax.axhline(0, color="black", lw=1.0, zorder=4)
        ax.set_xlim(*xlims[c])
        ax.set_ylim(*ylim)
        ax.set_xticks(x_ticks[c])
        ax.xaxis.set_minor_locator(MultipleLocator(xminor[c]))
        ax.set_yticks(y_ticks)
        ax.yaxis.set_minor_locator(MultipleLocator(25))
        ax.grid(which="major", color="#EBEBEB", lw=0.9)
        ax.grid(which="minor", color="#F2F2F2", lw=0.5)
        for sp in ax.spines.values():
            sp.set_color("#333333")
            sp.set_linewidth(0.8)
        ax.tick_params(which="minor", length=0)
        ax.tick_params(which="major", length=2.5, width=0.6, color="#333333",
                       labelsize=8.6, labelcolor="#4D4D4D", pad=1.5)
        ax.set_yticklabels([str(v) for v in y_ticks])
        if r == 2:
            ax.set_xticklabels(x_tick_labels[c])
        else:
            ax.tick_params(axis="x", which="both", length=0, labelbottom=False)

        # strip
        sax = fig.add_axes([x0 / W, 1 - y0 / H, (x1 - x0) / W, strip_px / H])
        sax.set_facecolor("#D9D9D9")
        sax.set_xticks([])
        sax.set_yticks([])
        for sp in sax.spines.values():
            sp.set_color("#333333")
            sp.set_linewidth(0.8)
        sax.text(0.5, 0.5, facet_labels[r], ha="center", va="center",
                 fontsize=7.8, color="#1A1A1A", transform=sax.transAxes)

        fig.text(letter_x[c] / W, 1 - letter_y[r] / H, panel_letters[r][c],
                 fontsize=13, fontweight="bold", ha="left", va="center")

        if r == 1:
            fig.text(ylab_x[c] / W, 1 - ((y0 + y1) / 2) / H, y_title, rotation=90,
                     ha="center", va="center", fontsize=8.8)
        if r == 2:
            fig.text(((x0 + x1) / 2) / W, 1 - 536 / H, x_titles[c],
                     ha="center", va="center", fontsize=8.6)

fig.savefig("out.png", dpi=100)
